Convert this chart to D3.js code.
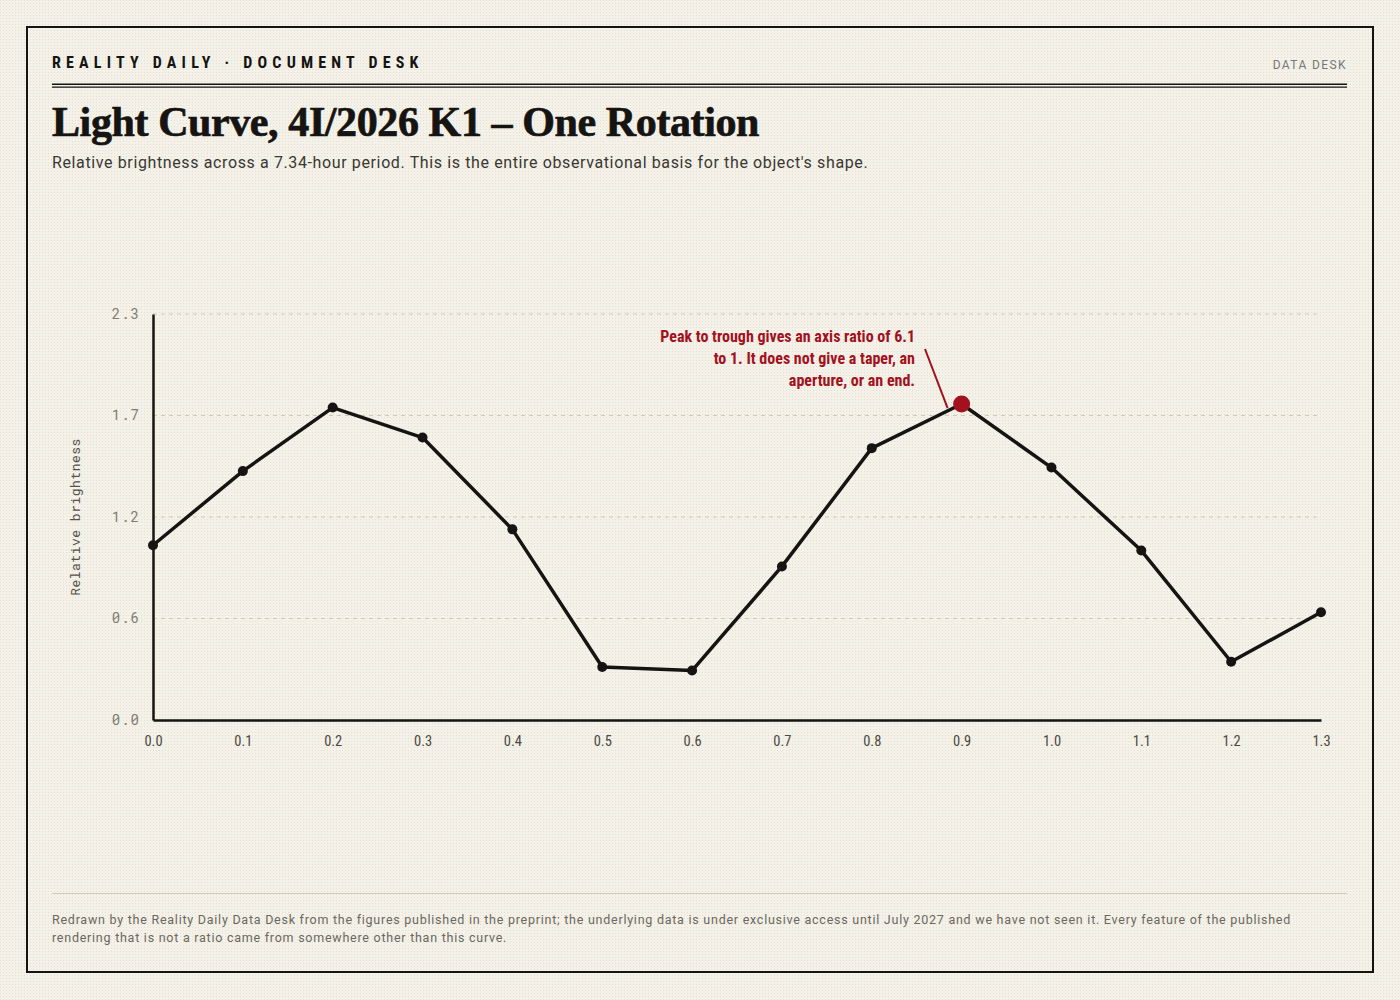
<!DOCTYPE html>
<html lang="en">
<head>
  <meta charset="UTF-8" />
  <title>Light Curve, 4I/2026 K1</title>
  <style>
    body {
      margin: 0;
      background: #f4f1e8;
    }
    svg { display: block; }
    .cond { font-family: 'Roboto Condensed', 'Liberation Sans Narrow', 'DejaVu Sans Condensed', sans-serif; font-stretch: condensed; }
    .mono { font-family: 'Roboto Mono', 'DejaVu Sans Mono', 'Liberation Mono', monospace; }
    .sans { font-family: Roboto, 'Noto Sans', sans-serif; }
    .serif { font-family: 'Liberation Serif', 'DejaVu Serif', serif; }
  </style>
</head>
<body>
  <svg width="1400" height="1000"></svg>

  <script src="https://d3js.org/d3.v7.min.js"></script>
  <script>
    // phase (fraction of rotation) and relative brightness
    const phases = [0.0, 0.1, 0.2, 0.3, 0.4, 0.5, 0.6, 0.7, 0.8, 0.9, 1.0, 1.1, 1.2, 1.3];
    const brightness = [0.99, 1.41, 1.77, 1.60, 1.08, 0.30, 0.28, 0.87, 1.54, 1.79, 1.43, 0.96, 0.33, 0.61];
    const yTicks = [0, 0.575, 1.15, 1.725, 2.3];
    const yTickLabels = ["0.0", "0.6", "1.2", "1.7", "2.3"];
    const highlightPhase = 0.9;

    const annotationLines = [
      "Peak to trough gives an axis ratio of 6.1",
      "to 1. It does not give a taper, an",
      "aperture, or an end."
    ];
    const footerLines = [
      "Redrawn by the Reality Daily Data Desk from the figures published in the preprint; the underlying data is under exclusive access until July 2027 and we have not seen it. Every feature of the published",
      "rendering that is not a ratio came from somewhere other than this curve."
    ];

    const W = 1400, H = 1000;
    const margin = { left: 153, right: 79, top: 314, bottom: 280 };
    const svg = d3.select("svg");

    // paper background with faint dot texture
    const defs = svg.append("defs");
    const pat = defs.append("pattern")
      .attr("id", "dots").attr("width", 3).attr("height", 3)
      .attr("patternUnits", "userSpaceOnUse");
    pat.append("rect").attr("width", 3).attr("height", 3).attr("fill", "#f4f1e8");
    pat.append("rect").attr("width", 1).attr("height", 1).attr("fill", "#e4dfd1");
    svg.append("rect").attr("width", W).attr("height", H).attr("fill", "url(#dots)");

    svg.append("rect")
      .attr("x", 27).attr("y", 27).attr("width", 1346).attr("height", 945)
      .attr("fill", "none").attr("stroke", "#151412").attr("stroke-width", 2);

    // masthead
    svg.append("text").attr("class", "cond")
      .attr("x", 52).attr("y", 68)
      .attr("font-size", 16).attr("font-weight", 700)
      .attr("letter-spacing", 5.2).attr("fill", "#151412")
      .text("REALITY DAILY · DOCUMENT DESK");
    svg.append("text").attr("class", "sans")
      .attr("x", 1347).attr("y", 69).attr("text-anchor", "end")
      .attr("font-size", 12).attr("letter-spacing", 1.4).attr("fill", "#777")
      .text("DATA DESK");
    svg.append("line").attr("x1", 52).attr("x2", 1347).attr("y1", 84.3).attr("y2", 84.3)
      .attr("stroke", "#151412").attr("stroke-width", 1.5);
    svg.append("line").attr("x1", 52).attr("x2", 1347).attr("y1", 87.2).attr("y2", 87.2)
      .attr("stroke", "#151412").attr("stroke-width", 1.2);

    svg.append("text").attr("class", "serif")
      .attr("x", 52).attr("y", 136)
      .attr("font-size", 42).attr("font-weight", 700)
      .attr("letter-spacing", -0.4).attr("fill", "#151412")
      .attr("stroke", "#151412").attr("stroke-width", 0.7)
      .text("Light Curve, 4I/2026 K1 – One Rotation");
    svg.append("text").attr("class", "sans")
      .attr("x", 52).attr("y", 168)
      .attr("font-size", 16).attr("letter-spacing", 0.62).attr("fill", "#3a3833")
      .text("Relative brightness across a 7.34-hour period. This is the entire observational basis for the object's shape.");

    // scales
    const x = d3.scaleLinear().domain([0, 1.3]).range([margin.left, W - margin.right]);
    const y = d3.scaleLinear().domain([0, 2.3]).range([H - margin.bottom, margin.top]);

    // grid
    svg.append("g")
      .selectAll("line")
      .data(yTicks.filter(d => d > 0))
      .join("line")
        .attr("x1", x(0)).attr("x2", x(1.3))
        .attr("y1", d => y(d)).attr("y2", d => y(d))
        .attr("stroke", "#cfcbb3").attr("stroke-width", 1)
        .attr("stroke-dasharray", "4,4");

    // axes
    const yAxis = svg.append("g")
      .attr("transform", `translate(${x(0)},0)`)
      .call(d3.axisLeft(y).tickValues(yTicks).tickFormat((d, i) => yTickLabels[i]).tickSize(0).tickPadding(13));
    yAxis.select(".domain").attr("stroke", "#151412").attr("stroke-width", 2.5);
    yAxis.selectAll("text").attr("class", "mono")
      .attr("font-size", 14).attr("letter-spacing", 1).attr("fill", "#7f7c74");

    const xAxis = svg.append("g")
      .attr("transform", `translate(0,${y(0)})`)
      .call(d3.axisBottom(x).tickValues(phases).tickFormat(d3.format(".1f")).tickSize(0).tickPadding(16));
    xAxis.select(".domain").attr("stroke", "#151412").attr("stroke-width", 2.5);
    xAxis.selectAll("text").attr("class", "cond")
      .attr("font-size", 14.5).attr("fill", "#4a4843");

    svg.append("text").attr("class", "mono")
      .attr("transform", `translate(80,${(y(0) + y(2.3)) / 2}) rotate(-90)`)
      .attr("text-anchor", "middle")
      .attr("font-size", 13).attr("letter-spacing", 0.5).attr("fill", "#55524b")
      .text("Relative brightness");

    // curve
    const pts = phases.map((p, i) => ({ p, v: brightness[i] }));
    svg.append("path")
      .datum(pts)
      .attr("fill", "none").attr("stroke", "#151412").attr("stroke-width", 3.5)
      .attr("stroke-linejoin", "round")
      .attr("d", d3.line().x(d => x(d.p)).y(d => y(d.v)));

    svg.append("g")
      .selectAll("circle")
      .data(pts.filter(d => d.p !== highlightPhase))
      .join("circle")
        .attr("cx", d => x(d.p)).attr("cy", d => y(d.v))
        .attr("r", 5).attr("fill", "#151412");

    const peak = pts.find(d => d.p === highlightPhase);

    // annotation
    svg.append("line")
      .attr("x1", 925).attr("y1", 349)
      .attr("x2", x(peak.p) - 14).attr("y2", y(peak.v) + 4)
      .attr("stroke", "#a3111f").attr("stroke-width", 2);
    svg.append("circle")
      .attr("cx", x(peak.p)).attr("cy", y(peak.v))
      .attr("r", 8.5).attr("fill", "#a3111f");

    svg.append("text").attr("class", "cond")
      .attr("text-anchor", "end").attr("font-size", 16).attr("font-weight", 700)
      .attr("fill", "#a3111f")
      .selectAll("tspan")
      .data(annotationLines)
      .join("tspan")
        .attr("x", 915).attr("y", (d, i) => 342 + i * 22)
        .text(d => d);

    // footer
    svg.append("line").attr("x1", 52).attr("x2", 1347).attr("y1", 893.5).attr("y2", 893.5)
      .attr("stroke", "#d2cdb8").attr("stroke-width", 1);
    svg.append("text").attr("class", "sans")
      .attr("font-size", 12.5).attr("letter-spacing", 0.75).attr("fill", "#6b6861")
      .selectAll("tspan")
      .data(footerLines)
      .join("tspan")
        .attr("x", 52).attr("y", (d, i) => 924 + i * 18)
        .text(d => d);
  </script>
</body>
</html>
